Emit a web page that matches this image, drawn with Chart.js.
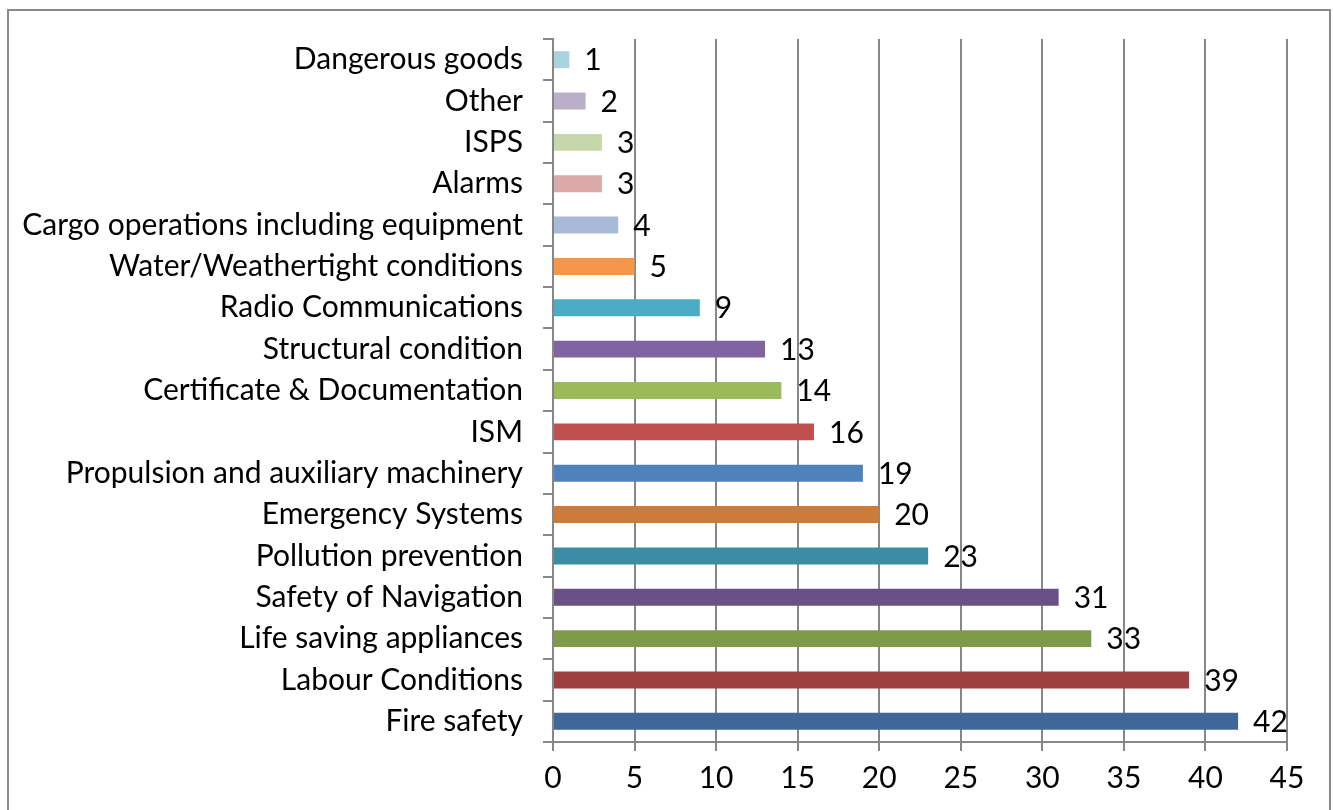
<!DOCTYPE html>
<html>
<head>
<meta charset="utf-8">
<script src="https://cdn.jsdelivr.net/npm/chart.js@4.4.1/dist/chart.umd.min.js"></script>
<style>
  html, body { margin: 0; padding: 0; background: #fff; overflow: hidden; }
  #divGraph { position: absolute; left: 7px; top: 9px; width: 1320px; height: 810px; border: 2px solid #8a8a8a; }
  #canvGraph { display: block; }
</style>
</head>
<body>
<div id="divGraph"><canvas id="canvGraph" width="1320" height="799"></canvas></div>
<script>
var categories = [
    'Dangerous goods', 'Other', 'ISPS', 'Alarms', 'Cargo operations including equipment',
    'Water/Weathertight conditions', 'Radio Communications', 'Structural condition',
    'Certificate & Documentation', 'ISM', 'Propulsion and auxiliary machinery',
    'Emergency Systems', 'Pollution prevention', 'Safety of Navigation',
    'Life saving appliances', 'Labour Conditions', 'Fire safety'
];
var values = [1, 2, 3, 3, 4, 5, 9, 13, 14, 16, 19, 20, 23, 31, 33, 39, 42];
var barColors = [
    '#a9d3df', '#b9afc9', '#c6d7ab', '#dba9a8', '#a9b9d8',
    '#f79646', '#4bacc6', '#8064a2', '#9bbb59', '#c0504d', '#4f81bd',
    '#cc7b38', '#3c8da3', '#6a5185', '#7f9a48', '#9d4140', '#3f6898'
];
var xTicks = [0, 5, 10, 15, 20, 25, 30, 35, 40, 45];

var _font = 'Lato, "Open Sans", sans-serif';
var _gray = '#878787';

// data labels drawn to the right of every bar
var valueLabels = {
    id: 'valueLabels',
    afterDatasetsDraw: function (chart) {
        var ctx = chart.ctx;
        var meta = chart.getDatasetMeta(0);
        ctx.save();
        ctx.font = '30px ' + _font;
        ctx.fillStyle = '#000';
        ctx.textAlign = 'left';
        ctx.textBaseline = 'middle';
        meta.data.forEach(function (bar, i) {
            ctx.fillText(values[i], bar.x + 15, bar.y + 1);
        });
        ctx.restore();
    }
};

var ctxChart = document.getElementById('canvGraph').getContext('2d');

var _chart = new Chart(ctxChart, {
    type: 'bar',
    data: {
        labels: categories,
        datasets: [{
            data: values,
            backgroundColor: barColors,
            borderWidth: 0,
            categoryPercentage: 0.41,
            barPercentage: 1
        }]
    },
    options: {
        indexAxis: 'y',
        responsive: false,
        animation: false,
        layout: { padding: { top: 28, right: 42, left: 0, bottom: 0 } },
        plugins: {
            legend: { display: false },
            tooltip: { enabled: false }
        },
        scales: {
            x: {
                min: 0,
                max: 45,
                afterBuildTicks: function (scale) {
                    scale.ticks = xTicks.map(function (v) { return { value: v }; });
                },
                afterFit: function (scale) { scale.height = 68; },
                grid: { color: _gray, lineWidth: 2, tickLength: 9, tickColor: _gray },
                border: { color: _gray, width: 2 },
                ticks: { color: '#000', font: { family: _font, size: 30 }, padding: 9, maxRotation: 0 }
            },
            y: {
                afterFit: function (scale) {
                    scale.width = 544;
                    scale.paddingTop = 0;
                    scale.paddingBottom = 0;
                },
                grid: { drawOnChartArea: false, color: _gray, lineWidth: 2, tickLength: 10, offset: true },
                border: { color: _gray, width: 2 },
                ticks: { color: '#000', font: { family: _font, size: 30 }, padding: 20 }
            }
        }
    },
    plugins: [valueLabels]
});
</script>
</body>
</html>
